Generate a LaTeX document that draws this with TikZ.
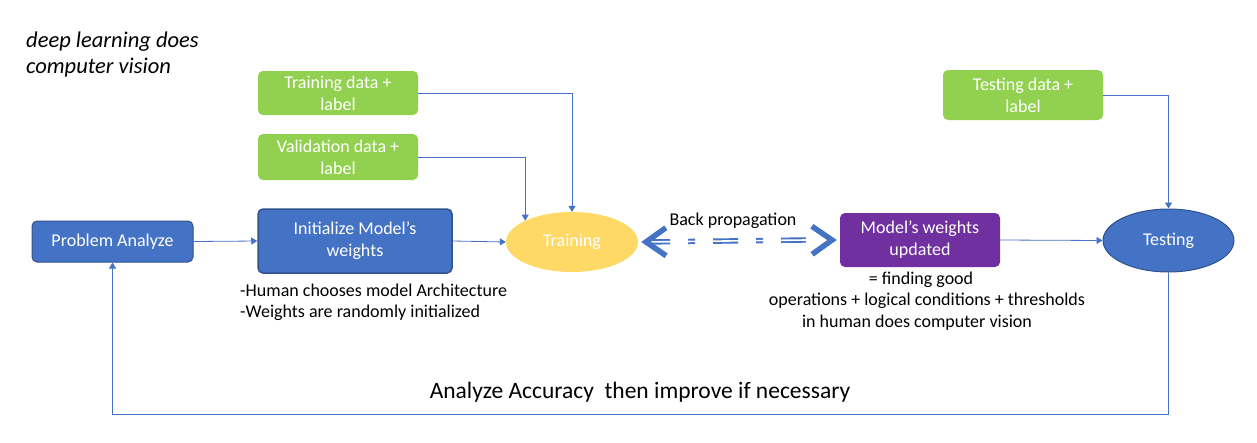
\documentclass[tikz,border=0pt]{standalone}
\usepackage{fontspec}
\setmainfont{Carlito}
\usetikzlibrary{arrows.meta,shapes.geometric}
\definecolor{cblue}{HTML}{4472C4}
\definecolor{cdark}{HTML}{2F528F}
\definecolor{cgreen}{HTML}{92D050}
\definecolor{cpurple}{HTML}{7030A0}
\definecolor{cyellow}{HTML}{FFD966}
\tikzset{
  box/.style={rounded corners=5pt, inner sep=0pt, align=center, text=white,
    font=\fontsize{18}{22}\selectfont},
  bluebox/.style={box, fill=cblue, draw=cdark, line width=1pt},
  greenbox/.style={box, fill=cgreen},
  purplebox/.style={box, fill=cpurple},
  oval/.style={ellipse, inner sep=0pt, text=white, font=\fontsize{18}{22}\selectfont},
  conn/.style={draw=cblue, line width=0.8pt, -{Triangle[length=6pt,width=7pt]}},
  note/.style={font=\fontsize{18}{21.5}\selectfont, inner sep=0pt},
  bpshaft/.style={draw=cblue, line width=1.9pt, double=white, double distance=1.6pt,
    dash pattern=on 25pt off 18pt on 7pt off 18pt},
  bptips/.style={draw=cblue, line width=1pt, dash pattern=on 0pt off 10000pt, line cap=butt,
    {Straight Barb[length=20pt,width=28pt,line width=5.5pt]}-{Straight Barb[length=20pt,width=28pt,line width=5.5pt]}}
}
\begin{document}
\begin{tikzpicture}[x=1pt,y=-1pt]
\useasboundingbox (0,0) rectangle (1257,442);
\node[anchor=north west, inner sep=0pt, align=left, font=\fontsize{22.5}{26}\selectfont\itshape] (title) at (26,32) {deep learning does\\computer vision};

\node[bluebox, minimum width=161pt, minimum height=41pt] (pa) at (112.5,241.5) {Problem Analyze};
\node[bluebox, line width=1.5pt, minimum width=194pt, minimum height=64pt] (init) at (355,241) {Initialize Model’s\\weights};
\node[oval, fill=cyellow, minimum width=132pt, minimum height=60pt] (train) at (572,242) {Training};
\node[purplebox, minimum width=160pt, minimum height=54pt] (upd) at (920,240) {Model’s weights\\updated};
\node[oval, fill=cblue, draw=cdark, line width=1pt, minimum width=131pt, minimum height=63pt] (test) at (1168.5,240.5) {Testing};

\node[greenbox, minimum width=160pt, minimum height=44pt] (td) at (338,93) {Training data +\\label};
\node[greenbox, minimum width=160pt, minimum height=46pt] (vd) at (338,157) {Validation data +\\label};
\node[greenbox, minimum width=160pt, minimum height=50pt] (ted) at (1023,95) {Testing data +\\label};

\node[note, anchor=base west, align=left] (hum1) at (240,296) {-Human chooses model Architecture};
\node[note, anchor=base west, align=left] (hum2) at (240,317.5) {-Weights are randomly initialized};
\node[note, anchor=base] (fg1) at (921,284) {= finding good};
\node[note, anchor=base] (fg2) at (927,305.5) {operations + logical conditions + thresholds};
\node[note, anchor=base] (fg3) at (917,327) {in human does computer vision};
\node[note, anchor=base] (bpl) at (733,225) {Back propagation};
\node[anchor=base, inner sep=0pt, font=\fontsize{23.5}{26}\selectfont] (acc) at (640,398) {Analyze Accuracy~~then improve if necessary};

\draw[conn] (pa.east) -- (init.west);
\draw[conn] (init.east) -- (train.west);
\draw[conn] (upd.east) -- (test.west);
\draw[conn] (td.east) -| (train.north);
\draw[conn] (vd.east) -| (train.north west);
\draw[conn] (ted.east) -| (test.north);
\draw[conn] (test.south) -- ++(0,142) -| (pa.south);
\draw[bpshaft] ([xshift=7pt]train.east) -- ([xshift=-34pt]upd.west);
\draw[bptips] ([xshift=3pt]train.east) -- ([xshift=-3pt]upd.west);
\end{tikzpicture}
\end{document}
